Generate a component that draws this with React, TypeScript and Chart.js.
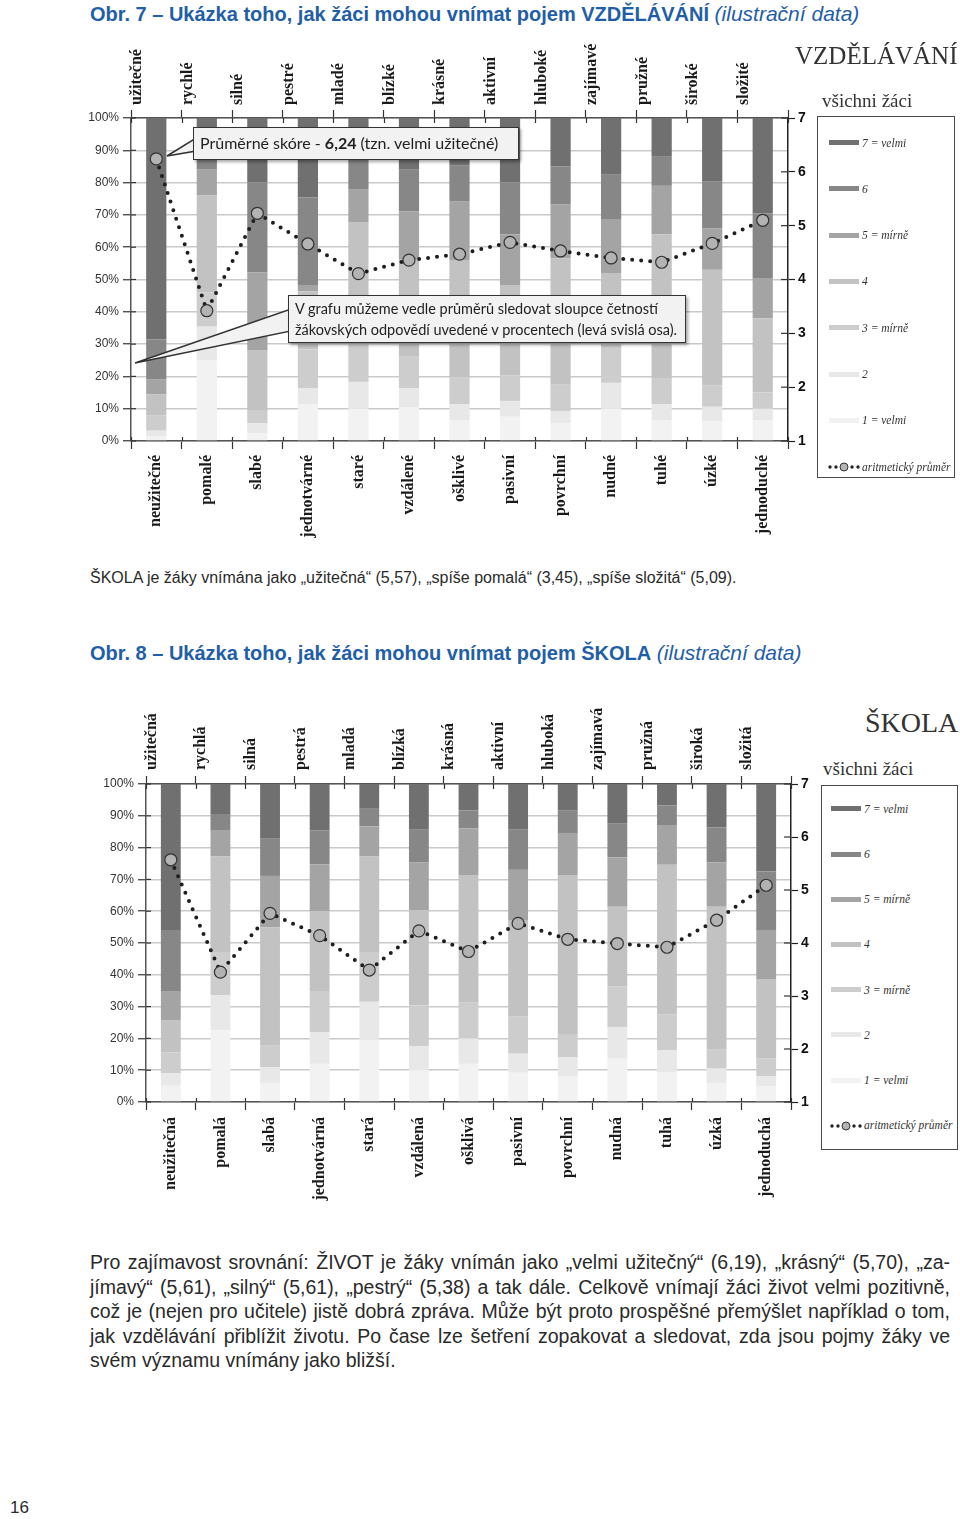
import React, { useEffect, useRef } from 'react';
import { Chart, registerables } from 'chart.js';
Chart.register(...registerables);

// ---------- DATA ----------
const eduTopLabels = ['užitečné', 'rychlé', 'silné', 'pestré', 'mladé', 'blízké', 'krásné', 'aktivní', 'hluboké', 'zajímavé', 'pružné', 'široké', 'složité'];
const eduBottomLabels = ['neužitečné', 'pomalé', 'slabé', 'jednotvárné', 'staré', 'vzdálené', 'ošklivé', 'pasivní', 'povrchní', 'nudné', 'tuhé', 'úzké', 'jednoduché'];
const eduLevel1 = [1.5, 25, 2.5, 11.4, 10, 10.3, 6.5, 7.5, 5.6, 10, 6.3, 6, 6.3];
const eduLevel2 = [1.7, 10.4, 3, 5, 8.3, 6, 4.8, 4.9, 3.7, 8, 5.1, 4.6, 3.7];
const eduLevel3 = [4.8, 10.6, 4.1, 11.9, 11.7, 9.8, 8.4, 7.9, 8.1, 11.1, 7.9, 6.7, 5];
const eduLevel4 = [6.5, 30, 18.6, 18, 37.8, 30, 36.3, 28, 39.1, 22.9, 44.7, 35.7, 23];
const eduLevel5 = [4.5, 8, 24, 2, 10.2, 15, 18.1, 15.7, 16.7, 16.5, 15, 12.8, 12.2];
const eduLevel6 = [12.5, 6, 27.8, 27.2, 10, 12.9, 11.3, 16, 11.8, 13.9, 9, 14.5, 20.3];
const eduLevel7 = [68.5, 10, 20, 24.5, 12, 16, 14.6, 20, 15, 17.6, 12, 19.7, 29.5];
const eduMeans = [6.24, 3.42, 5.23, 4.66, 4.11, 4.36, 4.47, 4.69, 4.53, 4.40, 4.32, 4.67, 5.10];

const schoolTopLabels = ['užitečná', 'rychlá', 'silná', 'pestrá', 'mladá', 'blízká', 'krásná', 'aktivní', 'hluboká', 'zajímavá', 'pružná', 'široká', 'složitá'];
const schoolBottomLabels = ['neužitečná', 'pomalá', 'slabá', 'jednotvárná', 'stará', 'vzdálená', 'ošklivá', 'pasivní', 'povrchní', 'nudná', 'tuhá', 'úzká', 'jednoduchá'];
const schoolLevel1 = [5.1, 22.6, 6, 12, 19.5, 10, 12, 9.2, 8, 13.6, 9.3, 6, 5];
const schoolLevel2 = [4, 11, 5, 10, 12, 7.5, 8, 6, 6, 10, 7, 4.5, 3.1];
const schoolLevel3 = [6.5, 13.6, 6.9, 12.9, 15.7, 12.9, 11.4, 11.8, 7.4, 12.8, 11.3, 5.9, 5.6];
const schoolLevel4 = [10, 30, 37, 25, 30, 30, 40, 30, 50, 25, 47, 45, 25];
const schoolLevel5 = [9.1, 8.1, 16.2, 14.8, 9.5, 14.9, 14.7, 16, 13.2, 15.6, 12.5, 14, 15.4];
const schoolLevel6 = [19.4, 5, 11.7, 10.7, 5.5, 10.3, 5.6, 12.8, 7, 10.7, 6.2, 11, 18.4];
const schoolLevel7 = [45.9, 9.7, 17.2, 14.6, 7.8, 14.4, 8.3, 14.2, 8.4, 12.3, 6.7, 13.6, 27.5];
const schoolMeans = [5.57, 3.45, 4.56, 4.14, 3.49, 4.23, 3.84, 4.37, 4.07, 3.99, 3.92, 4.43, 5.09];

const levelNames = ['1 = velmi', '2', '3 = mírně', '4', '5 = mírně', '6', '7 = velmi'];
const levelColors = ['#f2f2f2', '#e8e8e8', '#cdcdcd', '#c2c2c2', '#a4a4a4', '#878787', '#707070'];
const meanLabel = 'aritmetický průměr';
const leftTicks = [0, 10, 20, 30, 40, 50, 60, 70, 80, 90, 100];
const rightTicks = [1, 2, 3, 4, 5, 6, 7];

// ---------- helpers ----------
const crossTicks = {
  id: 'crossTicks',
  afterDraw(chart: any) {
    const ctx = chart.ctx;
    const { x, xTop, y, y2 } = chart.scales;
    ctx.save();
    ctx.strokeStyle = '#333';
    ctx.lineWidth = 1.2;
    const n = x.ticks.length;
    const w = (x.right - x.left) / n;
    for (let k = 0; k <= n; k++) {
      const px = Math.round(x.left + k * w) + 0.5;
      ctx.beginPath();
      ctx.moveTo(px, x.top);
      ctx.lineTo(px, x.top - 4);
      ctx.moveTo(px, xTop.bottom);
      ctx.lineTo(px, xTop.bottom + 5);
      ctx.stroke();
    }
    y.ticks.forEach((t: any) => {
      const py = y.getPixelForValue(t.value);
      ctx.beginPath();
      ctx.moveTo(y.right, py);
      ctx.lineTo(y.right + 5, py);
      ctx.stroke();
    });
    y2.ticks.forEach((t: any) => {
      const py = y2.getPixelForValue(t.value);
      ctx.beginPath();
      ctx.moveTo(y2.left - 7, py);
      ctx.lineTo(y2.left, py);
      ctx.stroke();
    });
    ctx.restore();
  },
};

type Geo = {
  left: number; top: number; width: number; height: number;
  areaLeft: number; areaRight: number; areaTop: number; areaBottom: number;
  topPad: number; bottomPad: number;
};

function StackChart(props: { geo: Geo; topLabels: string[]; bottomLabels: string[]; levels: number[][]; means: number[] }) {
  const { geo, topLabels, bottomLabels, levels, means } = props;
  const ref = useRef<HTMLCanvasElement>(null);
  useEffect(() => {
    const leftW = geo.areaLeft - geo.left;
    const rightW = geo.left + geo.width - geo.areaRight;
    const topH = geo.areaTop - geo.top;
    const bottomH = geo.top + geo.height - geo.areaBottom;
    const datasets: any[] = levels.map((vals, i) => ({
      type: 'bar',
      label: levelNames[i],
      data: vals,
      backgroundColor: levelColors[i],
      borderWidth: 0,
      xAxisID: 'x',
      yAxisID: 'y',
      stack: 's',
      order: 2,
      categoryPercentage: 1,
      barPercentage: 0.4,
    }));
    datasets.push({
      type: 'line',
      label: meanLabel,
      data: means,
      xAxisID: 'x',
      yAxisID: 'y2',
      order: 0,
      borderColor: '#1e1e1e',
      borderWidth: 4,
      borderDash: [0, 9],
      borderCapStyle: 'round',
      pointRadius: 6,
      pointBackgroundColor: '#b3b3b3',
      pointBorderColor: '#333',
      pointBorderWidth: 1.2,
      fill: false,
      tension: 0,
    });
    const xFont = { family: 'Liberation Serif', weight: 'bold' as const, size: 16 };
    const chart = new Chart(ref.current as HTMLCanvasElement, {
      type: 'bar',
      data: { labels: bottomLabels, datasets },
      options: {
        responsive: false,
        animation: false,
        devicePixelRatio: 1,
        plugins: { legend: { display: false }, tooltip: { enabled: false } },
        layout: { padding: 0 },
        scales: {
          x: {
            type: 'category',
            position: 'bottom',
            stacked: true,
            offset: true,
            grid: { offset: true, drawOnChartArea: false, drawTicks: true, tickLength: 8, tickColor: '#333', tickWidth: 1.2 },
            border: { color: '#555', width: 1.5 },
            ticks: { autoSkip: false, maxRotation: 90, minRotation: 90, padding: geo.bottomPad, color: '#1a1a1a', font: xFont },
            afterFit: (s: any) => { s.height = bottomH; },
          },
          xTop: {
            type: 'category',
            position: 'top',
            labels: topLabels,
            offset: true,
            grid: { offset: true, drawOnChartArea: false, drawTicks: true, tickLength: 8, tickColor: '#333', tickWidth: 1.2 },
            border: { color: '#555', width: 1.5 },
            ticks: { autoSkip: false, maxRotation: 90, minRotation: 90, padding: geo.topPad, color: '#1a1a1a', font: xFont },
            afterFit: (s: any) => { s.height = topH; },
          },
          y: {
            type: 'linear',
            position: 'left',
            stacked: true,
            min: leftTicks[0],
            max: leftTicks[leftTicks.length - 1],
            afterBuildTicks: (s: any) => { s.ticks = leftTicks.map((v) => ({ value: v })); },
            ticks: { callback: (v: any) => v + '%', padding: 4, color: '#333', font: { family: 'Liberation Sans', size: 12 } },
            grid: { color: '#c9c9c9', lineWidth: 1.5, tickColor: '#333', tickLength: 8, tickWidth: 1.2 },
            border: { color: '#555', width: 1.5 },
            afterFit: (s: any) => { s.width = leftW; },
          },
          y2: {
            type: 'linear',
            position: 'right',
            min: rightTicks[0],
            max: rightTicks[rightTicks.length - 1],
            afterBuildTicks: (s: any) => { s.ticks = rightTicks.map((v) => ({ value: v })); },
            ticks: { padding: 3, color: '#111', font: { family: 'Liberation Sans', weight: 'bold', size: 14 } },
            grid: { drawOnChartArea: false, tickColor: '#222', tickLength: 7, tickWidth: 1.2 },
            border: { color: '#222', width: 1.5 },
            afterFit: (s: any) => { s.width = rightW; },
          },
        },
      } as any,
      plugins: [crossTicks],
    });
    return () => chart.destroy();
  }, []);
  return (
    <canvas
      ref={ref}
      width={geo.width}
      height={geo.height}
      style={{ position: 'absolute', left: geo.left, top: geo.top, width: geo.width, height: geo.height }}
    />
  );
}

function Txt(props: { x: number; cy: number; size: number; children: any; style?: any }) {
  const lh = Math.round(props.size * 1.3);
  return (
    <div
      style={{
        position: 'absolute', left: props.x, top: props.cy - lh / 2, lineHeight: lh + 'px',
        fontSize: props.size, whiteSpace: 'nowrap', ...(props.style || {}),
      }}
    >
      {props.children}
    </div>
  );
}

function Legend(props: { left: number; top: number; width: number; height: number; first: number; step: number; sampleX: number; textX: number; fontSize: number }) {
  const { left, top, width, height, first, step, sampleX, textX, fontSize } = props;
  const order = [6, 5, 4, 3, 2, 1, 0];
  const textStyle = (cy: number) => ({
    position: 'absolute' as const, left: textX, top: cy - fontSize * 0.65, lineHeight: fontSize * 1.3 + 'px', fontSize,
    fontFamily: 'Liberation Serif', fontStyle: 'italic', color: '#333', whiteSpace: 'nowrap' as const,
  });
  return (
    <div style={{ position: 'absolute', left, top, width, height, border: '1px solid #4a4a4a', boxSizing: 'border-box', background: '#fff' }}>
      {order.map((li, i) => (
        <div key={li}>
          <div style={{ position: 'absolute', left: sampleX, top: first + i * step - 3, width: 30, height: 5, background: levelColors[li] }} />
          <div style={textStyle(first + i * step)}>{levelNames[li]}</div>
        </div>
      ))}
      <svg style={{ position: 'absolute', left: sampleX - 1, top: first + 7 * step - 6 }} width={32} height={12}>
        {[2, 8, 24, 30].map((cx) => <circle key={cx} cx={cx} cy={6} r={1.7} fill="#222" />)}
        <circle cx={16} cy={6} r={4} fill="#b3b3b3" stroke="#333" strokeWidth={1} />
      </svg>
      <div style={textStyle(first + 7 * step)}>{meanLabel}</div>
    </div>
  );
}

const sans = 'Liberation Sans, Arial, sans-serif';
const blue = '#1f5ea8';

const paragraph = [
  'Pro zajímavost srovnání: ŽIVOT je žáky vnímán jako „velmi užitečný“ (6,19), „krásný“ (5,70), „za-',
  'jímavý“ (5,61), „silný“ (5,61), „pestrý“ (5,38) a tak dále. Celkově vnímají žáci život velmi pozitivně,',
  'což je (nejen pro učitele) jistě dobrá zpráva. Může být proto prospěšné přemýšlet například o tom,',
  'jak vzdělávání přiblížit životu. Po čase lze šetření zopakovat a sledovat, zda jsou pojmy žáky ve',
  'svém významu vnímány jako bližší.',
];

export default function App() {
  const geo1: Geo = { left: 0, top: 30, width: 812, height: 530, areaLeft: 131, areaRight: 788, areaTop: 118, areaBottom: 441, topPad: 5, bottomPad: 6 };
  const geo2: Geo = { left: 0, top: 690, width: 812, height: 520, areaLeft: 146, areaRight: 791, areaTop: 784, areaBottom: 1102, topPad: 6, bottomPad: 7 };
  return (
    <div style={{ position: 'absolute', left: 0, top: 0, width: 960, height: 1519, background: '#fff', overflow: 'hidden', fontFamily: sans }}>
      <Txt x={90} cy={14} size={20} style={{ color: blue }}>
        <b>Obr. 7 – Ukázka toho, jak žáci mohou vnímat pojem VZDĚLÁVÁNÍ</b> <i style={{ fontSize: 21 }}>(ilustrační data)</i>
      </Txt>

      <StackChart
        geo={geo1}
        topLabels={eduTopLabels}
        bottomLabels={eduBottomLabels}
        levels={[eduLevel1, eduLevel2, eduLevel3, eduLevel4, eduLevel5, eduLevel6, eduLevel7]}
        means={eduMeans}
      />
      <Txt x={795} cy={55} size={25} style={{ fontFamily: 'Liberation Serif', color: '#333' }}>VZDĚLÁVÁNÍ</Txt>
      <Txt x={822} cy={100} size={19} style={{ fontFamily: 'Liberation Serif', color: '#333' }}>všichni žáci</Txt>
      <Legend left={817} top={116} width={138} height={362} first={26} step={46.3} sampleX={11} textX={44} fontSize={11.5} />

      {/* callouts */}
      <svg style={{ position: 'absolute', left: 0, top: 0 }} width={960} height={560}>
        <polygon points="196,138 196,151 167,156" fill="#f2f2f2" stroke="#333" strokeWidth={1.5} />
        <polygon points="291,309 291,331 135,363" fill="#f2f2f2" stroke="#333" strokeWidth={1.5} />
      </svg>
      <div style={{ position: 'absolute', left: 193, top: 127, width: 326, height: 33, boxSizing: 'border-box', border: '1.5px solid #333', background: '#f2f2f2', boxShadow: '2px 2px 3px rgba(0,0,0,0.35)', fontFamily: 'Lato', fontSize: 16, lineHeight: '30px', paddingLeft: 6, color: '#222', whiteSpace: 'nowrap' }}>
        Průměrné skóre - <b>6,24</b> (tzn. velmi užitečné)
      </div>
      <div style={{ position: 'absolute', left: 288, top: 295, width: 398, height: 48, boxSizing: 'border-box', border: '1.5px solid #333', background: '#f2f2f2', boxShadow: '2px 2px 3px rgba(0,0,0,0.35)', fontFamily: 'Lato', fontSize: 14.5, lineHeight: '21px', paddingLeft: 6, paddingTop: 2, color: '#222', whiteSpace: 'nowrap' }}>
        V grafu můžeme vedle průměrů sledovat sloupce četností<br />
        žákovských odpovědí uvedené v procentech (levá svislá osa).
      </div>

      <Txt x={90} cy={577} size={16} style={{ color: '#2a2a2a' }}>
        ŠKOLA je žáky vnímána jako „užitečná“ (5,57), „spíše pomalá“ (3,45), „spíše složitá“ (5,09).
      </Txt>

      <Txt x={90} cy={653} size={20} style={{ color: blue }}>
        <b>Obr. 8 – Ukázka toho, jak žáci mohou vnímat pojem ŠKOLA</b> <i style={{ fontSize: 21 }}>(ilustrační data)</i>
      </Txt>

      <StackChart
        geo={geo2}
        topLabels={schoolTopLabels}
        bottomLabels={schoolBottomLabels}
        levels={[schoolLevel1, schoolLevel2, schoolLevel3, schoolLevel4, schoolLevel5, schoolLevel6, schoolLevel7]}
        means={schoolMeans}
      />
      <Txt x={865} cy={723} size={28} style={{ fontFamily: 'Liberation Serif', color: '#333' }}>ŠKOLA</Txt>
      <Txt x={823} cy={768} size={19} style={{ fontFamily: 'Liberation Serif', color: '#333' }}>všichni žáci</Txt>
      <Legend left={821} top={785} width={137} height={365} first={23.3} step={45.2} sampleX={9} textX={42} fontSize={11.5} />

      {paragraph.map((line, i) => (
        <div
          key={i}
          style={{
            position: 'absolute', left: 90, width: 860, top: 1262 + i * 24.5 - 12, lineHeight: '24px', fontSize: 19.5,
            color: '#2a2a2a', whiteSpace: 'nowrap', textAlign: 'justify',
            textAlignLast: i < paragraph.length - 1 ? 'justify' : 'left',
          } as any}
        >
          {line}
        </div>
      ))}

      <Txt x={10} cy={1508} size={17} style={{ color: '#2a2a2a' }}>16</Txt>
    </div>
  );
}
